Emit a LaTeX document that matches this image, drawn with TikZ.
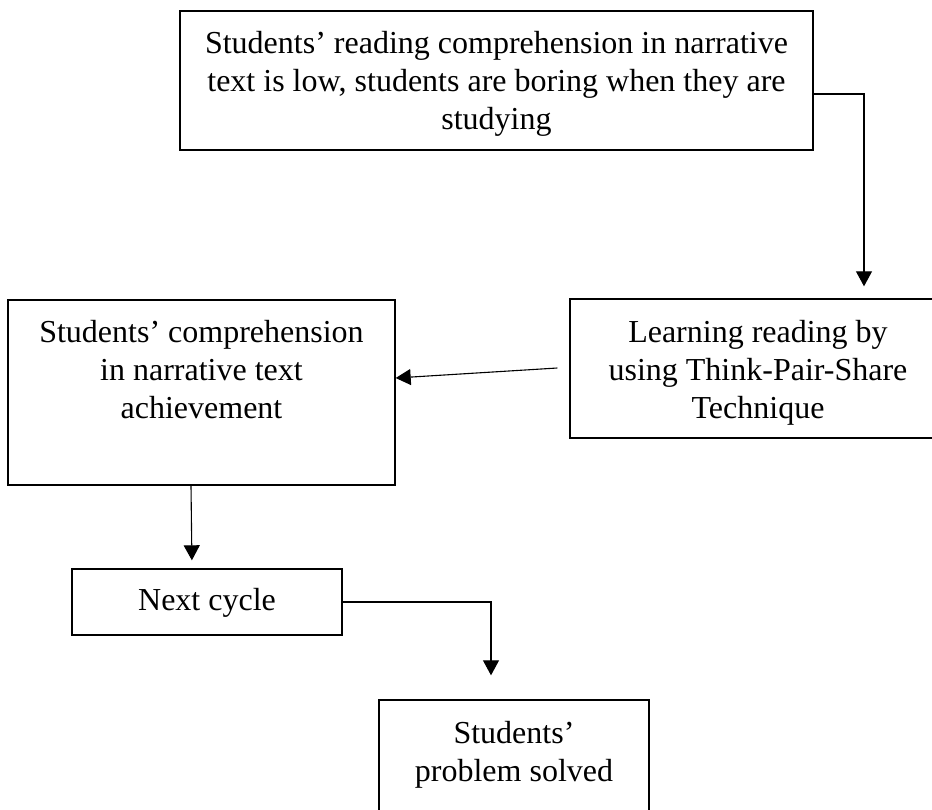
\documentclass[tikz,border=0pt]{standalone}
\usepackage{fontspec}
\setmainfont{Liberation Serif}
\usetikzlibrary{arrows.meta,calc}
\begin{document}
\begin{tikzpicture}[x=1pt,y=-1pt,
  box/.style={draw=black,line width=1.4pt,minimum width=#1,inner sep=0pt,fill=none},
  txt/.style={font=\fontsize{32}{38}\selectfont,align=center,inner sep=0pt,anchor=north},
  conn/.style={draw=black,line width=1.1pt},
  arr/.style={conn,-{Triangle[width=16pt,length=15pt]}}]
\clip (0,0) rectangle (932,809);
\fill[white] (0,0) rectangle (932,809);
% boxes
\node[box=633pt,minimum height=139pt] (b1) at (496.5,80.5) {};
\node[box=387pt,minimum height=185pt] (b2) at (201.5,392.5) {};
\node[box=376pt,minimum height=139pt] (b3) at (758,368.5) {};
\node[box=270pt,minimum height=66pt] (b4) at (207,602) {};
\node[box=270pt,minimum height=139pt] (b5) at (514,769.5) {};
% texts
\node[txt] (t1) at (496.5,31) {Students’ reading comprehension in narrative\\text is low, students are boring when they are\\studying};
\node[txt] (t2) at (201.5,320) {Students’ comprehension\\in narrative text\\achievement};
\node[txt] (t3) at (758,320) {Learning reading by\\using Think-Pair-Share\\Technique};
\node[txt] (t4) at (207,588) {Next cycle};
\node[txt] (t5) at (514,721) {Students’\\problem solved};
% connectors
\coordinate (c1) at ($(b1.east)+(0,13.5)$);
\coordinate (c1b) at (864,94);
\draw[arr,shorten >=12pt] (c1) -- (c1b) -- (c1b |- b3.north);
\coordinate (c2) at ($(b3.west)+(-12,-0.5)$);
\draw[arr] (c2) -- ($(b2.east)+(0,-14.5)$);
\coordinate (c3a) at ($(b2.south)+(-10.5,0)$);
\coordinate (c3b) at ($(b4.north)+(-15,0)$);
\draw[arr,shorten >=8pt] (c3a) -- (c3b);
\coordinate (c4) at (491,602);
\draw[arr,shorten >=24pt] (b4.east) -- (c4) -- (c4 |- b5.north);
\end{tikzpicture}
\end{document}
